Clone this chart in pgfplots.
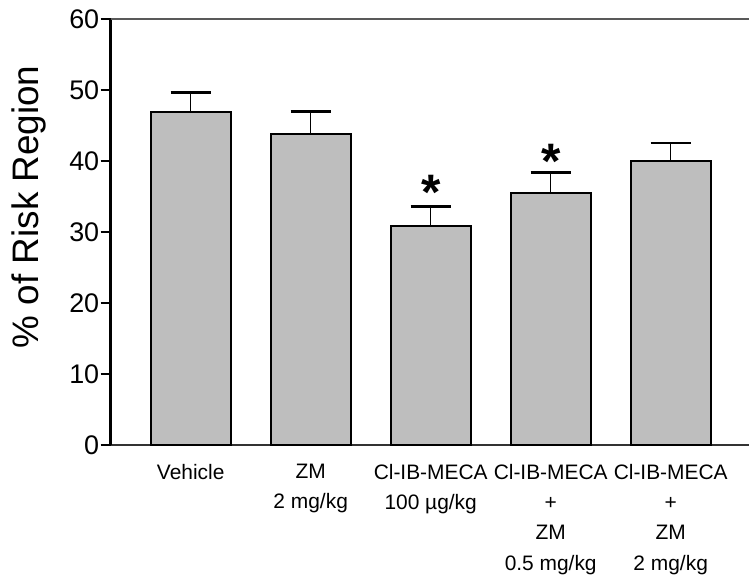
\documentclass[border=0pt]{standalone}
\usepackage{fontspec}
\setmainfont{Liberation Sans}
\usepackage{pgfplots}
\pgfplotsset{compat=1.18}
\definecolor{barfill}{RGB}{190,190,190}
\begin{document}
\begin{tikzpicture}
\begin{axis}[
  name=ax,
  scale only axis,
  width=638.3bp, height=426.2bp,
  xmin=-0.6667, xmax=4.6525,
  ymin=0, ymax=60,
  clip=false,
  axis x line*=bottom, axis y line*=left,
  x axis line style={line width=2bp, black!80},
  y axis line style={line width=2.5bp, black},
  xtick={0,1,2,3,4},
  xticklabels={{Vehicle},{ZM\\2 mg/kg},{Cl-IB-MECA\\100 µg/kg},{Cl-IB-MECA\\+\\ZM\\0.5 mg/kg},{Cl-IB-MECA\\+\\ZM\\2 mg/kg}},
  x tick style={draw=none},
  xticklabel style={align=center, font=\fontsize{21}{30.5}\selectfont, anchor=north, yshift=-5bp},
  ytick={0,10,20,30,40,50,60},
  tick align=outside,
  major tick length=10bp,
  y tick style={line width=2bp, black},
  yticklabel style={font=\fontsize{27}{30}\selectfont, xshift=2bp},
  /pgf/number format/assume math mode=true,
  ylabel={\% of Risk Region},
  ylabel style={font=\fontsize{37}{40}\selectfont, at={(axis description cs:-0.128,0.56)}, anchor=center},
]
\addplot[ybar, bar width=80bp, fill=barfill, draw=black, line width=2bp,
  error bars/.cd, y dir=plus, y explicit,
  error bar style={line width=1.5bp, black},
  error mark options={rotate=90, line width=2.7bp, mark size=20bp, black}]
  coordinates {
  (0,47.0) +- (0,2.7)
  (1,43.8) +- (0,3.2)
  (2,30.9) +- (0,2.7)
  (3,35.6) +- (0,2.8)
  (4,40.1) +- (0,2.5)
  };
\draw[black!65, line width=2bp] (rel axis cs:0,1) -- (rel axis cs:1,1);
\node[font=\fontsize{50}{50}\selectfont\bfseries, anchor=base] at (axis cs:2,33.2) {*};
\node[font=\fontsize{50}{50}\selectfont\bfseries, anchor=base] at (axis cs:3,37.6) {*};
\end{axis}
\pgfresetboundingbox
\path[use as bounding box] ([shift={(-110.7bp,-132.5bp)}]ax.south west) rectangle ([shift={(0bp,19.3bp)}]ax.north east);
\end{tikzpicture}
\end{document}
